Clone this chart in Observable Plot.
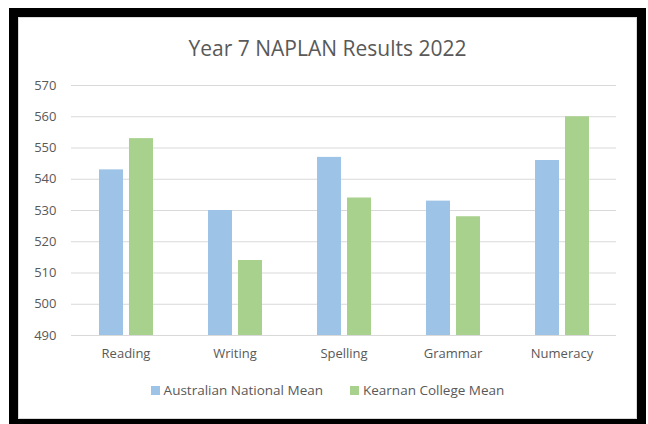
<!DOCTYPE html>
<html>
<head>
<meta charset="utf-8">
<script src="https://cdn.jsdelivr.net/npm/d3@7"></script>
<script src="https://cdn.jsdelivr.net/npm/@observablehq/plot@0.6"></script>
<style>
  html, body { margin: 0; padding: 0; background: #fff; }
  body { width: 648px; height: 424px; position: relative; overflow: hidden; font-family: "Open Sans", sans-serif; }
  #frame { position: absolute; left: 9px; top: 8px; width: 619px; height: 402px; border: 9px solid #000; background: #fff; }
  #inner { position: absolute; left: 0; top: 0; width: 617px; height: 400px; border: 1px solid #d9d9d9; }
  #title { position: absolute; left: 0; width: 619px; top: 17px; text-align: center; font-size: 21px; line-height: 28px; color: #595959; }
  #chart { position: absolute; left: 0; top: 53px; }
  #legend { position: absolute; top: 364px; left: 0; width: 619px; display: flex; justify-content: center; gap: 27px; font-size: 13.5px; line-height: 18px; color: #595959; }
  .item { display: flex; align-items: center; gap: 4px; }
  .sw { width: 9px; height: 9px; display: inline-block; }
</style>
</head>
<body>
<div id="frame">
  <div id="inner"></div>
  <div id="title">Year 7 NAPLAN Results 2022</div>
  <div id="chart"></div>
  <div id="legend"></div>
</div>
<script>
const categories = ["Reading", "Writing", "Spelling", "Grammar", "Numeracy"];
const seriesNames = ["Australian National Mean", "Kearnan College Mean"];
const nationalMean = [543, 530, 547, 533, 546];
const collegeMean = [553, 514, 534, 528, 560];
const seriesColors = ["#9DC3E6", "#A9D18E"];
const yTicks = [490, 500, 510, 520, 530, 540, 550, 560, 570];

const data = [];
categories.forEach((c, i) => {
  data.push({category: c, series: seriesNames[0], value: nationalMean[i]});
  data.push({category: c, series: seriesNames[1], value: collegeMean[i]});
});
const yMin = yTicks[0], yMax = yTicks[yTicks.length - 1];

const chart = Plot.plot({
  width: 619,
  height: 300,
  marginLeft: 52,
  marginRight: 20,
  marginTop: 15,
  marginBottom: 35,
  style: { fontFamily: "Open Sans, sans-serif", fontSize: "13px", color: "#595959", background: "transparent" },
  fx: { domain: categories, padding: 0, label: null, axis: "bottom", tickSize: 0, tickPadding: 13 },
  x: { domain: seriesNames, paddingInner: 0.21, paddingOuter: 0.87, axis: null },
  y: { domain: [yMin, yMax], ticks: yTicks, tickSize: 0, tickPadding: 15, label: null },
  color: { domain: seriesNames, range: seriesColors },
  marks: [
    Plot.ruleY(yTicks, { stroke: "#d9d9d9", strokeWidth: 1 }),
    Plot.barY(data, { fx: "category", x: "series", y1: yMin, y2: "value", fill: "series" })
  ]
});
document.getElementById("chart").appendChild(chart);

const legend = document.getElementById("legend");
seriesNames.forEach((s, i) => {
  const item = document.createElement("div");
  item.className = "item";
  const sw = document.createElement("span");
  sw.className = "sw";
  sw.style.background = seriesColors[i];
  const t = document.createElement("span");
  t.textContent = s;
  item.appendChild(sw);
  item.appendChild(t);
  legend.appendChild(item);
});
</script>
</body>
</html>
